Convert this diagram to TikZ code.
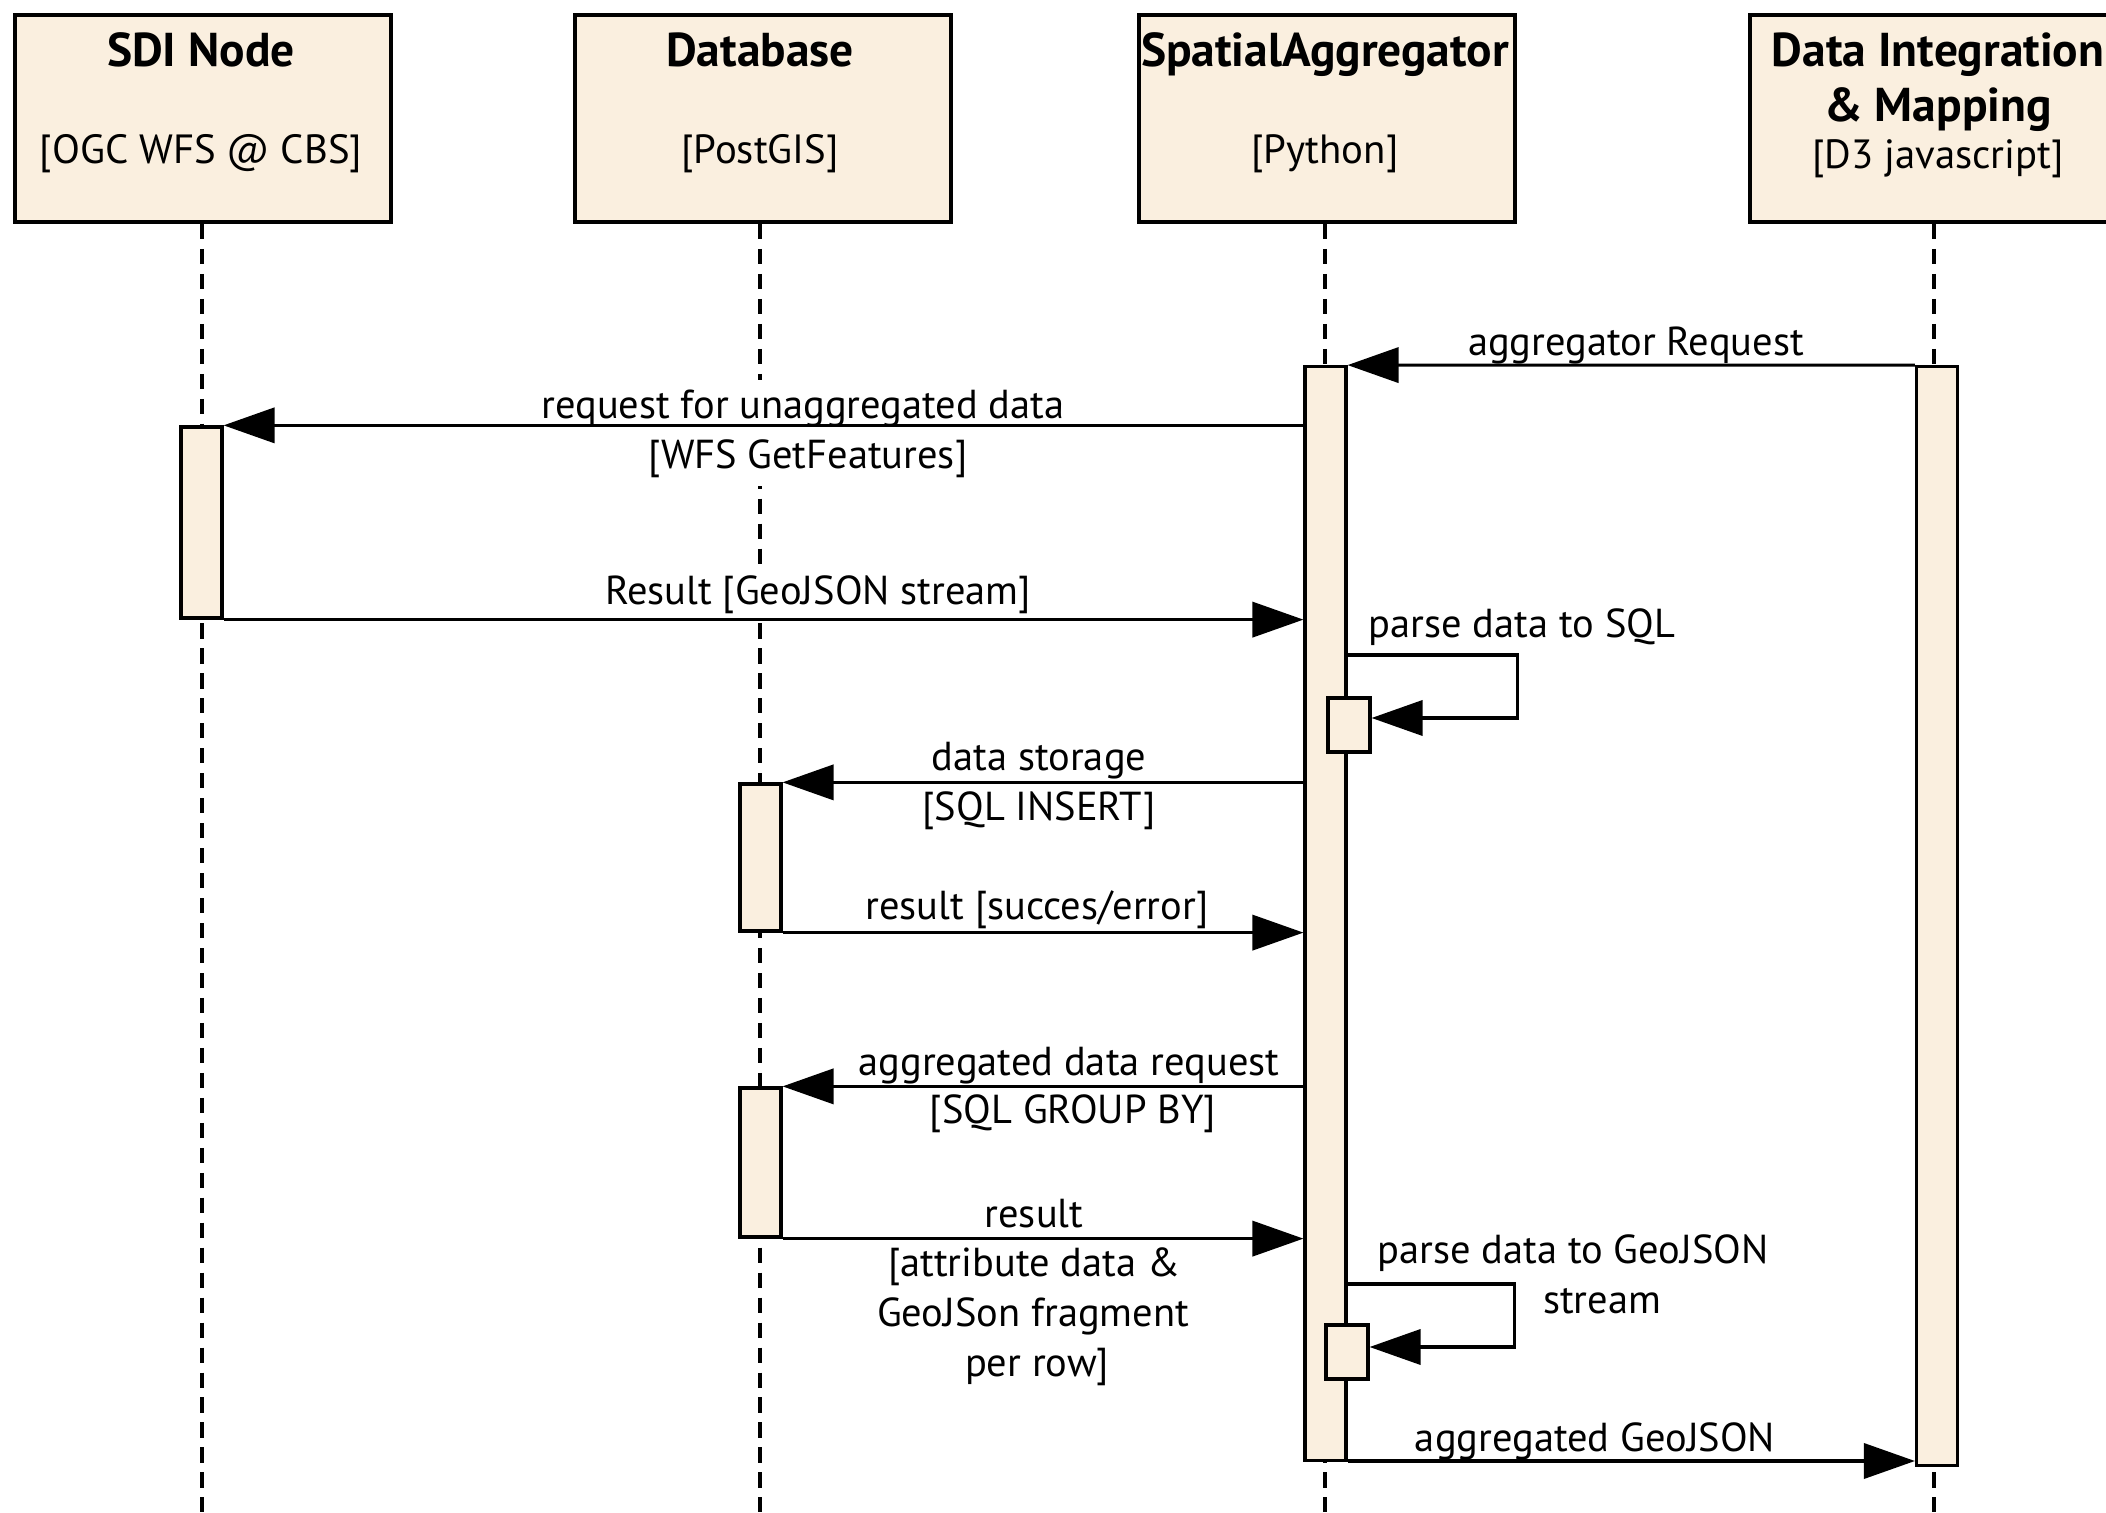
\documentclass[tikz,border=0pt]{standalone}
\usepackage{fontspec}
\setmainfont{PT Sans}
\usetikzlibrary{arrows.meta}
\definecolor{actfill}{HTML}{FAEFDF}
\begin{document}
\begin{tikzpicture}[x=0.01cm,y=-0.01cm,
  headbox/.style={draw=black, line width=1.1pt, fill=actfill, minimum width=3.76cm,
    minimum height=2.07cm, anchor=north west, inner sep=0pt},
  title/.style={font=\bfseries\fontsize{13.5}{16}\selectfont, inner sep=0pt,
    text height=10pt, text depth=3pt},
  subtitle/.style={font=\fontsize{11.6}{14}\selectfont, inner sep=0pt,
    text height=9pt, text depth=3pt},
  lifeline/.style={line width=0.9pt, dash pattern=on 4.3pt off 2.8pt},
  actbar/.style={draw=black, line width=0.9pt, fill=actfill, minimum width=0.41cm, inner sep=0pt},
  msg/.style={line width=0.9pt, -{Triangle[length=14.5pt,width=10pt]}},
  lbl/.style={font=\fontsize{11.5}{14}\selectfont, fill=white, inner sep=2.5pt,
    text height=8.5pt, text depth=2.5pt}
]
\useasboundingbox (0,0) rectangle (2106,1513);
\clip (0,0) rectangle (2106,1513);

% participant heads
\node[headbox] (sdiH) at (13,13) {};
\node[headbox] (dbH)  at (573,13) {};
\node[headbox] (spH)  at (1137,13) {};
\node[headbox] (diH)  at (1748,13) {};

\node[title]    (sdiT) at (201,54)  {SDI Node};
\node[subtitle] (sdiS) at (201,153) {[OGC WFS @ CBS]};
\node[title]    (dbT)  at (760,54)  {Database};
\node[subtitle] (dbS)  at (760,153) {[PostGIS]};
\node[title]    (spT)  at (1325,54) {SpatialAggregator};
\node[subtitle] (spS)  at (1325,153) {[Python]};
\node[title]    (diT1) at (1938,54) {Data Integration};
\node[title]    (diT2) at (1938,109) {\& Mapping};
\node[subtitle] (diS)  at (1938,158) {[D3 javascript]};

% lifelines
\coordinate (sdiEnd) at (202,1520);
\coordinate (dbEnd)  at (760,1520);
\coordinate (spEnd)  at (1325,1520);
\coordinate (diEnd)  at (1934,1520);
\draw[lifeline] (sdiH.south -| sdiEnd) -- (sdiEnd);
\draw[lifeline] (dbH.south -| dbEnd) -- (dbEnd);
\draw[lifeline] (spH.south -| spEnd) -- (spEnd);
\draw[lifeline] (diH.south -| diEnd) -- (diEnd);

% message labels
\node[lbl] (l1)  at (1636,345) {aggregator Request};
\node[lbl] (l2a) at (803,408)  {request for unaggregated data};
\node[lbl] (l2b) at (808,458)  {[WFS GetFeatures]};
\node[lbl] (l3)  at (818,594)  {Result [GeoJSON stream]};
\node[lbl] (l4)  at (1522,627) {parse data to SQL};
\node[lbl] (l5a) at (1039,760) {data storage};
\node[lbl] (l5b) at (1039,810) {[SQL INSERT]};
\node[lbl] (l6)  at (1037,909) {result [succes/error]};
\node[lbl] (l7a) at (1069,1065) {aggregated data request};
\node[lbl] (l7b) at (1073,1113) {[SQL GROUP BY]};
\node[lbl] (l8a) at (1034,1217) {result};
\node[lbl] (l8b) at (1034,1266) {[attribute data \&};
\node[lbl] (l8c) at (1033,1316) {GeoJSon fragment};
\node[lbl] (l8d) at (1037,1366) {per row]};
\node[lbl] (l9a) at (1573,1253) {parse data to GeoJSON};
\node[lbl] (l9b) at (1602,1303) {stream};
\node[lbl] (l10) at (1595,1441) {aggregated GeoJSON};

% activation bars
\node[actbar, minimum height=10.93cm] (spBar)  at (1325.5,913.5) {};
\node[actbar, minimum height=10.98cm] (diBar)  at (1937,916) {};
\node[actbar, minimum height=1.91cm]  (sdiBar) at (201.5,522.5) {};
\node[actbar, minimum height=1.47cm]  (dbBar1) at (760.5,857.5) {};
\node[actbar, minimum height=1.49cm]  (dbBar2) at (760.5,1162.5) {};
\node[actbar, minimum height=0.54cm, minimum width=0.42cm] (spSub1) at (1349,725) {};
\node[actbar, minimum height=0.54cm, minimum width=0.42cm] (spSub2) at (1347,1352) {};

% messages
\draw[msg] (diBar.north west) -- (spBar.north east);
\draw[msg] (spBar.west |- sdiBar.north) -- (sdiBar.north east);
\draw[msg] (sdiBar.south east) -- (spBar.west |- sdiBar.south);
\draw[msg] (spBar.east |- 0,655) -| ++(170,63) -- (spSub1.east |- 0,718);
\draw[msg] (spBar.west |- dbBar1.north) -- (dbBar1.north east);
\draw[msg] (dbBar1.south east) -- (spBar.west |- dbBar1.south);
\draw[msg] (spBar.west |- dbBar2.north) -- (dbBar2.north east);
\draw[msg] (dbBar2.south east) -- (spBar.west |- dbBar2.south);
\draw[msg] (spBar.east |- 0,1284) -| ++(167,63) -- (spSub2.east |- 0,1347);
\draw[msg] (spBar.east |- 0,1461) -- (diBar.west |- 0,1461);
\end{tikzpicture}
\end{document}
